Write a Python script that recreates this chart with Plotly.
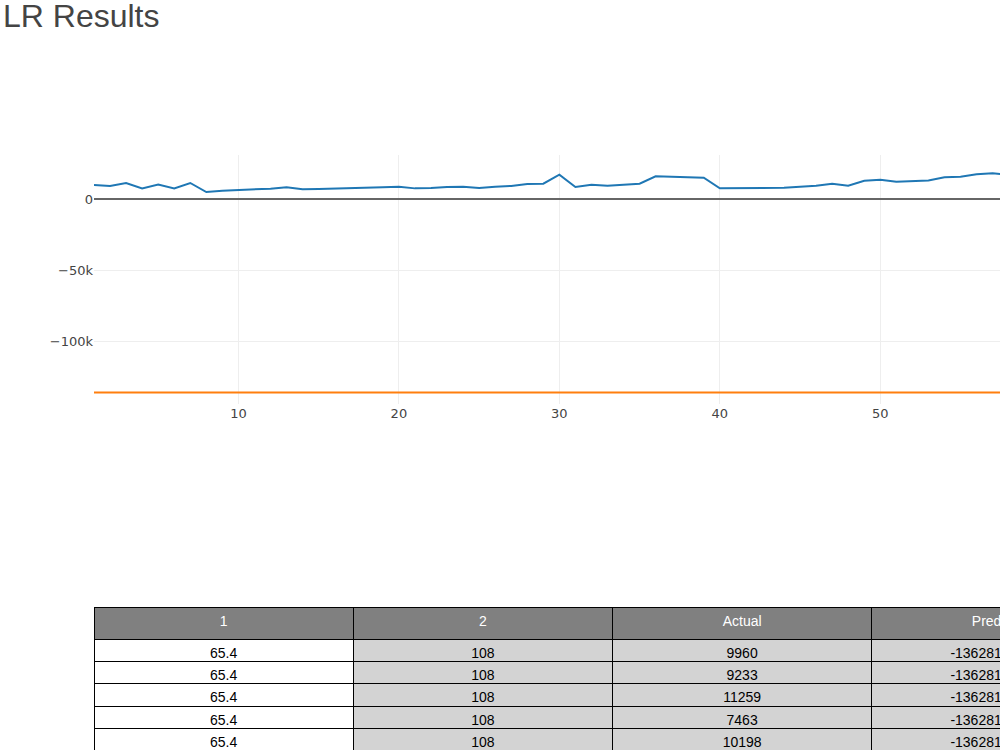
import plotly.graph_objects as go

# ---- data ----
x_index = list(range(1, 66))
actual = [9960, 9233, 11259, 7463, 10198, 7500, 11300, 4900, 5900, 6300,
          6600, 7300, 8200, 6800, 7000, 7300, 7500, 7500, 8200, 8700,
          7500, 7700, 8500, 8700, 7700, 8700, 9200, 10600, 10800, 17100,
          8500, 10100, 9400, 10100, 10800, 16000, 15500, 15000, 15000, 7500,
          7500, 7700, 7700, 8000, 8700, 9400, 10800, 9400, 12900, 13600,
          12200, 12700, 13100, 15300, 15700, 17400, 18100, 17000, 18500, 19600,
          20800, 21500, 22500, 20500, 21800]
predicted_value = -136281.413752
predicted = [predicted_value] * len(actual)
col1 = [65.4] * len(actual)
col2 = [108] * len(actual)
header_labels = ["1", "2", "Actual", "Predicted"]

# ---- layout geometry (pixels) ----
W, H = 1200, 1000
ML, MR, MT, MB = 94, 69, 155, 45
PW, PH = W - ML - MR, H - MT - MB
plot_w = 1027
plot_h = 248.8
table_top = 607

fig = go.Figure()
fig.add_trace(go.Scatter(x=x_index, y=actual, mode="lines", name="Actual",
                         line=dict(color="#1f77b4", width=2)))
fig.add_trace(go.Scatter(x=x_index, y=predicted, mode="lines", name="Predicted",
                         line=dict(color="#ff7f0e", width=2)))

fig.add_trace(go.Table(
    domain=dict(x=[0, 1], y=[0, 1 - (table_top - MT) / PH]),
    header=dict(values=header_labels, fill_color="grey", line_color="black",
                font=dict(color="white", size=14, family="Liberation Sans, Arial"),
                align="center", height=32),
    cells=dict(values=[col1, col2, [str(v) for v in actual], [str(v) for v in predicted]],
               fill_color=[["white"] * len(actual)] + [["lightgrey"] * len(actual)] * 3,
               line_color="black",
               font=dict(color="black", size=14, family="Liberation Sans, Arial"),
               align="center", height=22.4),
))

fig.update_layout(
    template="none",
    width=W, height=H,
    margin=dict(l=ML, r=MR, t=MT, b=MB),
    title=dict(text="LR Results", x=3 / W, xref="container", xanchor="left",
               y=1 - 15.5 / H, yref="container", yanchor="middle",
               font=dict(family="Liberation Sans, Arial", size=32, color="#444")),
    font=dict(family="DejaVu Sans, Verdana", size=13, color="#444"),
    xaxis=dict(domain=[0, plot_w / PW], showgrid=True, gridcolor="#eee",
               zeroline=False, tickfont=dict(family="DejaVu Sans, Verdana", size=13)),
    yaxis=dict(domain=[1 - plot_h / PH, 1], range=[-144220, 31000],
               gridcolor="#eee", zeroline=True, zerolinecolor="#666", zerolinewidth=1.5,
               tickfont=dict(family="DejaVu Sans, Verdana", size=13)),
    showlegend=False,
    plot_bgcolor="white", paper_bgcolor="white",
)

fig.write_html("out.html")
